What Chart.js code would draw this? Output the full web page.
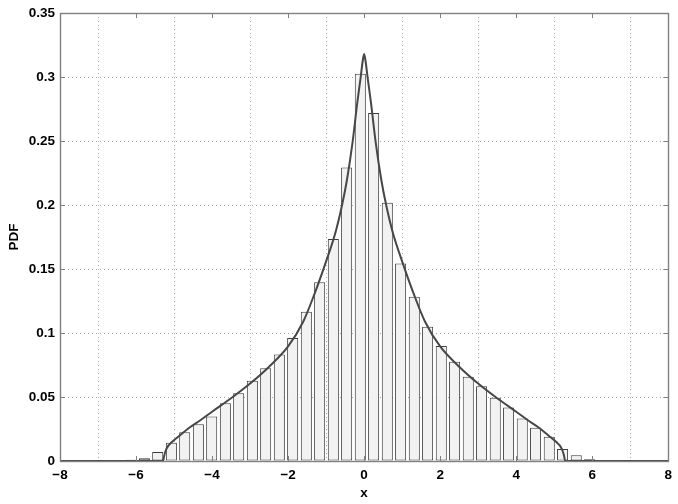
<!DOCTYPE html>
<html>
<head>
<meta charset="utf-8">
<script src="https://cdn.jsdelivr.net/npm/chart.js@4.4.0/dist/chart.umd.min.js"></script>
<style>
  html, body { margin: 0; padding: 0; background: #fff; }
  #wrap { width: 678px; height: 504px; }
</style>
</head>
<body>
<div id="wrap"><canvas id="c" width="678" height="504"></canvas></div>
<script>
// histogram bins (centres) and bar heights
var binCenters = [-6.14, -5.78, -5.43, -5.07, -4.72, -4.36, -4.01, -3.65, -3.30, -2.94,
                  -2.59, -2.23, -1.88, -1.52, -1.17, -0.81, -0.46, -0.10, 0.25, 0.61,
                  0.96, 1.32, 1.67, 2.03, 2.38, 2.74, 3.09, 3.45, 3.80, 4.16,
                  4.51, 4.87, 5.22, 5.58, 5.93];
var binHeights = [0.0010, 0.0021, 0.0070, 0.0143, 0.0224, 0.0287, 0.0348, 0.0451, 0.0529, 0.0628,
                  0.0724, 0.0833, 0.0961, 0.1167, 0.1396, 0.1734, 0.2294, 0.3026, 0.2720, 0.2018,
                  0.1544, 0.1284, 0.1049, 0.0898, 0.0776, 0.0659, 0.0585, 0.0494, 0.0418, 0.0333,
                  0.0260, 0.0190, 0.0094, 0.0044, 0.0013];

// theoretical pdf curve
var curveX = [-8, -5.29, -5.26, -5.22, -5.15, -5.05, -4.85, -4.6, -4.3, -4.0, -3.5, -3.0, -2.5, -2.0,
              -1.6, -1.3, -1.0, -0.75, -0.58, -0.45, -0.3, -0.18, -0.09, -0.04, 0,
              0.04, 0.09, 0.18, 0.3, 0.45, 0.58, 0.75, 1.0, 1.3, 1.6, 2.0, 2.5, 3.0, 3.5,
              4.0, 4.3, 4.6, 4.85, 5.05, 5.15, 5.22, 5.26, 5.29, 8];
var curveY = [0, 0, 0.004, 0.008, 0.012, 0.015, 0.020, 0.026, 0.032, 0.0385, 0.049, 0.0605, 0.0737, 0.0895,
              0.109, 0.131, 0.156, 0.179, 0.200, 0.220, 0.250, 0.280, 0.300, 0.312, 0.318,
              0.312, 0.300, 0.280, 0.250, 0.220, 0.200, 0.179, 0.156, 0.131, 0.109, 0.0895, 0.0737, 0.0605, 0.049,
              0.0385, 0.032, 0.026, 0.020, 0.015, 0.012, 0.008, 0.004, 0, 0];

var xTickLabels = ["\u22128", "\u22126", "\u22124", "\u22122", "0", "2", "4", "6", "8"];
var yTickLabels = ["0", "0.05", "0.1", "0.15", "0.2", "0.25", "0.3", "0.35"];

var FONT = "'Liberation Sans', Arial, Helvetica, sans-serif";
var FSIZE = 13.5;
var AXIS_GREY = "#808080";

// box round the plot + inward tick marks (matlab style)
var framePlugin = {
  id: "frame",
  afterDatasetsDraw: function(chart) {
    var ctx = chart.ctx, a = chart.chartArea;
    var xs = chart.scales.x, ys = chart.scales.y;
    ctx.save();
    ctx.strokeStyle = AXIS_GREY;
    ctx.lineWidth = 1;
    ctx.beginPath();
    xs.ticks.forEach(function(t) {
      var px = Math.round(xs.getPixelForValue(t.value)) + 0.5;
      ctx.moveTo(px, a.bottom); ctx.lineTo(px, a.bottom - 5);
      ctx.moveTo(px, a.top);    ctx.lineTo(px, a.top + 5);
    });
    ys.ticks.forEach(function(t) {
      var py = Math.round(ys.getPixelForValue(t.value)) + 0.5;
      ctx.moveTo(a.left, py);  ctx.lineTo(a.left + 5, py);
      ctx.moveTo(a.right, py); ctx.lineTo(a.right - 5, py);
    });
    ctx.stroke();
    ctx.lineWidth = 1.4;
    ctx.strokeRect(Math.round(a.left) + 0.5, Math.round(a.top) + 0.5,
                   Math.round(a.right - a.left), Math.round(a.bottom - a.top));
    ctx.restore();
  }
};

var barData = binCenters.map(function(x, i) { return { x: x, y: binHeights[i] }; });
var curveData = curveX.map(function(x, i) { return { x: x, y: curveY[i] }; });

new Chart(document.getElementById("c"), {
  type: "bar",
  data: {
    datasets: [
      {
        type: "line", label: "pdf",
        data: curveData,
        borderColor: "#474747", borderWidth: 2,
        pointRadius: 0, fill: false,
        cubicInterpolationMode: "monotone",
        order: 0
      },
      {
        type: "bar", label: "hist",
        data: barData,
        backgroundColor: "#f2f2f2",
        borderColor: "#3c3c3c", borderWidth: 1,
        borderSkipped: false,
        categoryPercentage: 1.0, barPercentage: 0.83,
        order: 1
      }
    ]
  },
  options: {
    responsive: false,
    animation: false,
    devicePixelRatio: 1,
    layout: { padding: { top: 13, right: 9, left: 0, bottom: 0 } },
    plugins: {
      legend: { display: false },
      tooltip: { enabled: false }
    },
    scales: {
      x: {
        type: "linear", min: -8, max: 8,
        offset: false,
        ticks: {
          stepSize: 2, padding: 6, color: "#000",
          font: { family: FONT, size: FSIZE, weight: "bold" },
          maxRotation: 0,
          callback: function(v, i) { return xTickLabels[i]; }
        },
        grid: { color: "#a8a8a8", drawTicks: false },
        border: { display: false, dash: [1, 3] },
        title: {
          display: true, text: "x", color: "#000",
          font: { family: FONT, size: FSIZE, weight: "bold" },
          padding: { top: 0, bottom: 3 }
        },
        afterFit: function(s) { s.height = 43; }
      },
      y: {
        type: "linear", min: 0, max: 0.35,
        ticks: {
          stepSize: 0.05, padding: 5, color: "#000",
          font: { family: FONT, size: FSIZE, weight: "bold" },
          callback: function(v, i) { return yTickLabels[i]; }
        },
        grid: { color: "#a8a8a8", drawTicks: false },
        border: { display: false, dash: [1, 3] },
        title: {
          display: true, text: "PDF", color: "#000",
          font: { family: FONT, size: FSIZE, weight: "bold" },
          padding: { top: 6, bottom: 0 }
        },
        afterFit: function(s) { s.width = 60; }
      }
    }
  },
  plugins: [framePlugin]
});
</script>
</body>
</html>
